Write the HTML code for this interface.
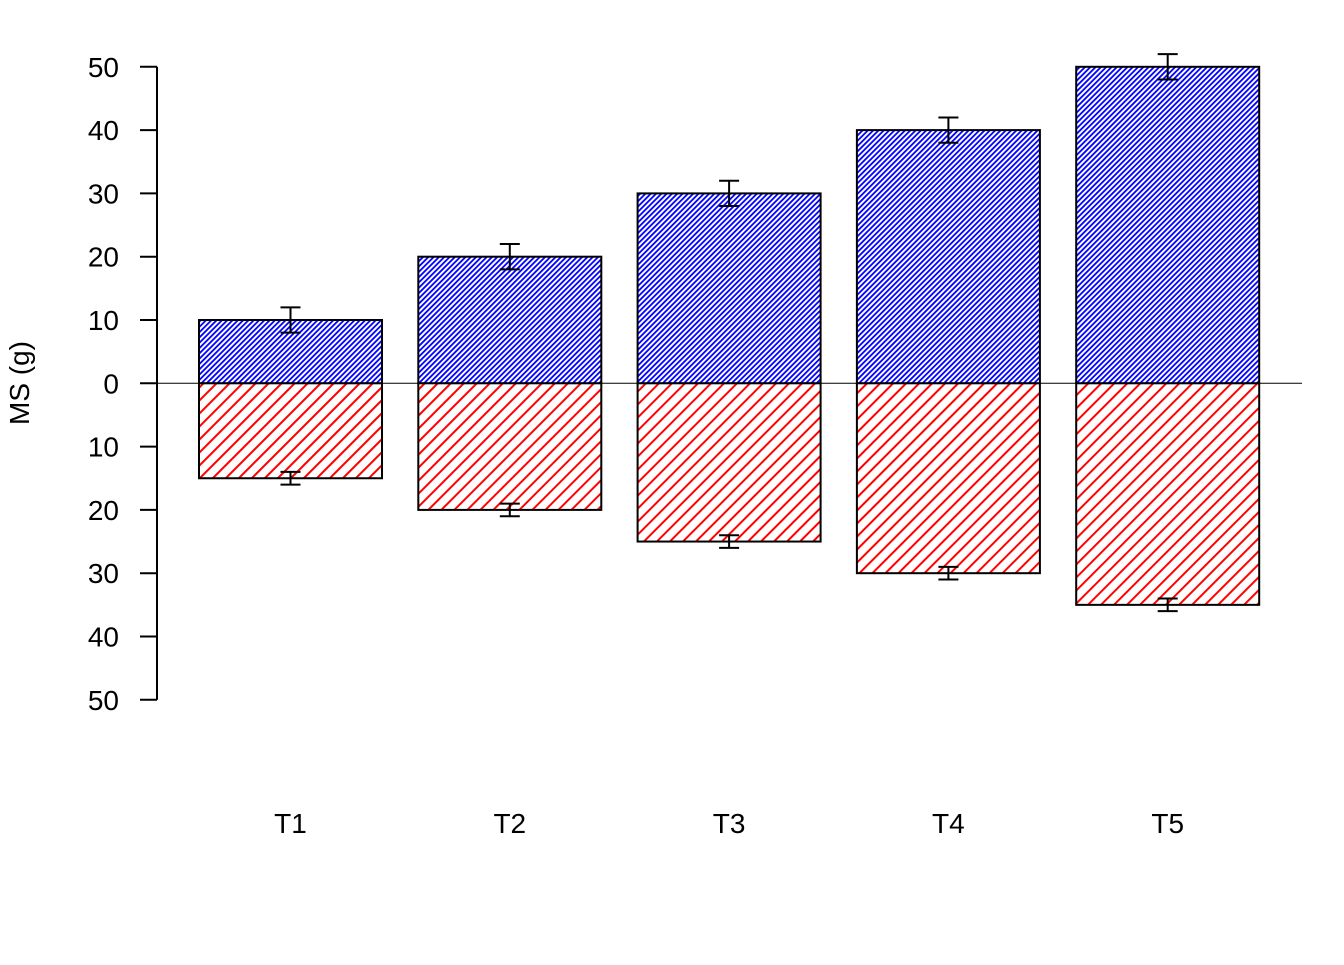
<!DOCTYPE html>
<html><head><meta charset="utf-8"><style>
body{margin:0;background:#fff}
text{font-family:"Liberation Sans",Arial,sans-serif;font-size:28px;fill:#000}
</style></head><body>
<svg id="chart" width="1344" height="960" xmlns="http://www.w3.org/2000/svg">
<defs>
<pattern id="hb" patternUnits="userSpaceOnUse" width="3.75" height="3.75" patternTransform="rotate(45)">
<rect width="3.75" height="3.75" fill="#fff"/><rect x="0" y="0" width="1.8" height="3.75" fill="#0000ff"/></pattern>
<pattern id="hr" patternUnits="userSpaceOnUse" width="9.2" height="9.2" patternTransform="rotate(45)">
<rect width="9.2" height="9.2" fill="#fff"/><rect x="0" y="0" width="2" height="9.2" fill="#ff0000"/></pattern>
</defs>
<g id="plot"></g>
</svg>
<script>
const categories=["T1","T2","T3","T4","T5"];
const posValues=[10,20,30,40,50];
const posErr=[2,2,2,2,2];
const negValues=[15,20,25,30,35];
const negErr=[1,1,1,1,1];
const yTicks=[50,40,30,20,10,0,-10,-20,-30,-40,-50];
const yTickLabels=["50","40","30","20","10","0","10","20","30","40","50"];

const NS="http://www.w3.org/2000/svg";
const g=document.getElementById('plot');
function y(v){return 383.3-v*6.33;}
function xc(i){return 290.5+i*219.3;}
const bw=183;
function el(t,a,p){const e=document.createElementNS(NS,t);for(const k in a)e.setAttribute(k,a[k]);(p||g).appendChild(e);return e;}

const ax=el('line',{x1:157,y1:y(50),x2:157,y2:y(-50),stroke:'#000','stroke-width':2});


yTicks.forEach((v,i)=>{
  const t=el('line',{x1:140,y1:y(v),x2:157,y2:y(v),stroke:'#000','stroke-width':2});
  
  
  const l=el('text',{x:119,y:y(v)+10,'text-anchor':'end'});
  l.textContent=yTickLabels[i];
  
  
});
const yt=el('text',{x:0,y:0,transform:'translate(29,383) rotate(-90)','text-anchor':'middle'});
yt.textContent='MS (g)';



function errbar(x,v1,v2){
  const e=el('g',{stroke:'#000','stroke-width':2});
  
  
  el('line',{x1:x,y1:y(v1),x2:x,y2:y(v2)},e);
  el('line',{x1:x-10,y1:y(v1),x2:x+10,y2:y(v1)},e);
  el('line',{x1:x-10,y1:y(v2),x2:x+10,y2:y(v2)},e);
}
categories.forEach((c,i)=>{
  const x=xc(i);
  const b1=el('rect',{x:x-bw/2,y:y(posValues[i]),width:bw,height:y(0)-y(posValues[i]),fill:'url(#hb)',stroke:'#000','stroke-width':2});
  
  
  const b2=el('rect',{x:x-bw/2,y:y(0),width:bw,height:y(-negValues[i])-y(0),fill:'url(#hr)',stroke:'#000','stroke-width':2});
  
  
  errbar(x,posValues[i]-posErr[i],posValues[i]+posErr[i]);
  errbar(x,-negValues[i]+negErr[i],-negValues[i]-negErr[i]);
  const l=el('text',{x:x,y:833,'text-anchor':'middle'});
  l.textContent=c;
  
  
});
const z=el('line',{x1:140,y1:y(0),x2:1302,y2:y(0),stroke:'#000','stroke-width':1});


</script>
</body></html>
